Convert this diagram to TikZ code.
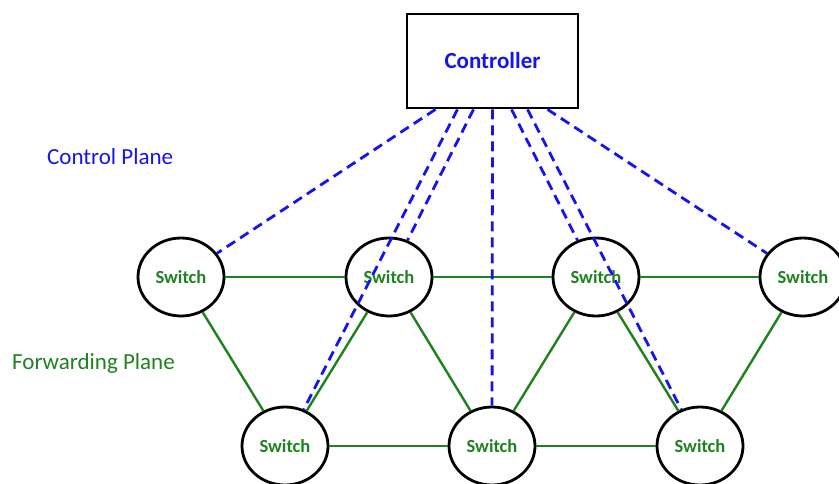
\documentclass[tikz,border=0pt]{standalone}
\usepackage{fontspec}
\setmainfont{Carlito}
\usetikzlibrary{shapes.geometric}
\definecolor{ctlblue}{RGB}{20,20,240}
\definecolor{fwdgreen}{RGB}{30,130,30}
\tikzset{
  sw/.style={ellipse, draw=black, line width=2.8pt, minimum width=86pt, minimum height=78pt, inner sep=0pt,
    font=\fontsize{18.5}{20}\selectfont\bfseries, text=fwdgreen},
  link/.style={draw=fwdgreen, line width=2.4pt},
  ctl/.style={draw=ctlblue, line width=2.8pt, dash pattern=on 10pt off 6pt},
  ctrlbox/.style={draw=black, line width=2.8pt, minimum width=171pt, minimum height=94pt, inner sep=0pt,
    font=\fontsize{23}{26}\selectfont\bfseries, text=ctlblue},
  plane/.style={font=\fontsize{23}{26}\selectfont, anchor=west, inner sep=0pt}
}
\begin{document}
\begin{tikzpicture}[x=1pt,y=-1pt]
\useasboundingbox (0,0) rectangle (839,483);
\node[ctrlbox] (ctrl) at (492.5,61) {Controller};
\node[plane, text=ctlblue] (cp) at (47,157) {Control Plane};
\node[plane, text=fwdgreen] (fp) at (12,363) {Forwarding Plane};
\node[sw] (s1) at (181,277) {Switch};
\node[sw] (s2) at (389,277) {Switch};
\node[sw] (s3) at (596,277) {Switch};
\node[sw] (s4) at (803,277) {Switch};
\node[sw] (b1) at (285,446) {Switch};
\node[sw] (b2) at (492,446) {Switch};
\node[sw] (b3) at (700,446) {Switch};
% forwarding links
\draw[link] (s1) -- (s2);
\draw[link] (s2) -- (s3);
\draw[link] (s3) -- (s4);
\draw[link] (b1) -- (b2);
\draw[link] (b2) -- (b3);
\draw[link] (s1) -- (b1);
\draw[link] (s2) -- (b1);
\draw[link] (s2) -- (b2);
\draw[link] (s3) -- (b2);
\draw[link] (s3) -- (b3);
\draw[link] (s4) -- (b3);
% control links
\coordinate (c1) at ([xshift=-57pt]ctrl.south);
\coordinate (c2) at ([xshift=-35pt]ctrl.south);
\coordinate (c3) at ([xshift=-19pt]ctrl.south);
\coordinate (c4) at ([xshift=0pt]ctrl.south);
\coordinate (c5) at ([xshift=19pt]ctrl.south);
\coordinate (c6) at ([xshift=35pt]ctrl.south);
\coordinate (c7) at ([xshift=55pt]ctrl.south);
\draw[ctl] (c1) -- (s1);
\draw[ctl] (c2) -- (b1);
\draw[ctl] (c3) -- (s2);
\draw[ctl] (c4) -- (b2);
\draw[ctl] (c5) -- (s3);
\draw[ctl] (c6) -- (b3);
\draw[ctl] (c7) -- (s4);
\end{tikzpicture}
\end{document}
